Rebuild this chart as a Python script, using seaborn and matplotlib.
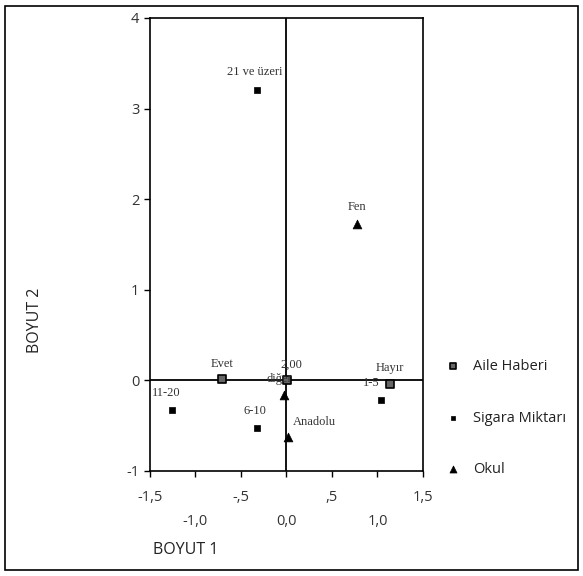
import matplotlib
matplotlib.use("Agg")
import matplotlib.pyplot as plt
import seaborn as sns
import pandas as pd
from matplotlib.patches import Rectangle

# Data
aile_labels = ["Evet", "Hayır", "2,00"]
aile_x = [-0.71, 1.14, 0.01]
aile_y = [0.02, -0.04, 0.00]

sigara_labels = ["21 ve üzeri", "11-20", "6-10", "1-5"]
sigara_x = [-0.32, -1.26, -0.32, 1.04]
sigara_y = [3.21, -0.33, -0.53, -0.22]

okul_labels = ["Fen", "diğer", "Anadolu"]
okul_x = [0.78, -0.03, 0.02]
okul_y = [1.73, -0.16, -0.63]

xticks = [-1.5, -1.0, -0.5, 0.0, 0.5, 1.0, 1.5]
xticklabels = ["-1,5", "\n-1,0", "-,5", "\n0,0", ",5", "\n1,0", "1,5"]
yticks = [-1, 0, 1, 2, 3, 4]
yticklabels = ["-1", "0", "1", "2", "3", "4"]

sns.set_style("white")
plt.rcParams['font.family'] = ['Open Sans', 'DejaVu Sans']

fig = plt.figure(figsize=(5.83, 5.76), dpi=100)
ax = fig.add_axes([0.257, 0.1823, 0.4686, 0.7865])

df_a = pd.DataFrame({"x": aile_x, "y": aile_y})
df_s = pd.DataFrame({"x": sigara_x, "y": sigara_y})
df_o = pd.DataFrame({"x": okul_x, "y": okul_y})

ax.axhline(0, color="black", lw=1.3, zorder=1)
ax.axvline(0, color="black", lw=1.3, zorder=1)

sns.scatterplot(data=df_a, x="x", y="y", ax=ax, marker="s", s=34,
                color="#666666", edgecolor="black", linewidth=1.2,
                label="Aile Haberi", zorder=3)
sns.scatterplot(data=df_s, x="x", y="y", ax=ax, marker="s", s=16,
                color="black", edgecolor="black", linewidth=0.5,
                label="Sigara Miktarı", zorder=3)
sns.scatterplot(data=df_o, x="x", y="y", ax=ax, marker="^", s=40,
                color="black", edgecolor="black", linewidth=0.5,
                label="Okul", zorder=3)

serif = dict(family=["Liberation Serif", "DejaVu Serif"], fontsize=9, color="#333333")
offsets = {"Evet": (0, 6), "Hayır": (0, 7), "2,00": (3, 7),
           "21 ve üzeri": (-2, 8), "11-20": (-4, 8), "6-10": (-2, 8), "1-5": (-7, 8),
           "Fen": (0, 8), "diğer": (-3, 7), "Anadolu": (19, 7)}
for labs, xs, ys in [(aile_labels, aile_x, aile_y),
                     (sigara_labels, sigara_x, sigara_y),
                     (okul_labels, okul_x, okul_y)]:
    for l, xv, yv in zip(labs, xs, ys):
        ax.annotate(l, (xv, yv), xytext=offsets[l], textcoords="offset points",
                    ha="center", va="bottom", **serif)

ax.set_xlim(-1.5, 1.5)
ax.set_ylim(-1, 4)
ax.set_xticks(xticks)
ax.set_xticklabels(xticklabels, fontsize=10.5, color="#333333", linespacing=1.75)
ax.set_yticks(yticks)
ax.set_yticklabels(yticklabels, fontsize=10.5, color="#333333")
ax.tick_params(axis="x", pad=10)
ax.tick_params(axis="both", which="both", direction="out", length=4, width=1,
               color="black", bottom=True, left=True)
for sp in ax.spines.values():
    sp.set_color("black")
    sp.set_linewidth(1.2)

ax.set_xlabel("")
ax.set_ylabel("")
fig.text(153 / 583, 1 - 550 / 576, "BOYUT 1", fontsize=11.5, color="#222222",
         ha="left", va="center")
fig.text(35 / 583, 1 - 320 / 576, "BOYUT 2", fontsize=11.5, color="#222222",
         ha="center", va="center", rotation=90)

leg = ax.legend(loc="upper left", bbox_to_anchor=(1.035, 0.26), frameon=False,
                fontsize=10.5, labelspacing=2.5, handletextpad=0.35,
                borderaxespad=0, markerscale=0.8)
for t in leg.get_texts():
    t.set_color("#222222")

fig.patches.append(Rectangle((5 / 583, 6 / 576), 573 / 583, 564 / 576,
                             transform=fig.transFigure, fill=False,
                             edgecolor="black", linewidth=1.2))

fig.savefig("out.png", dpi=100)
